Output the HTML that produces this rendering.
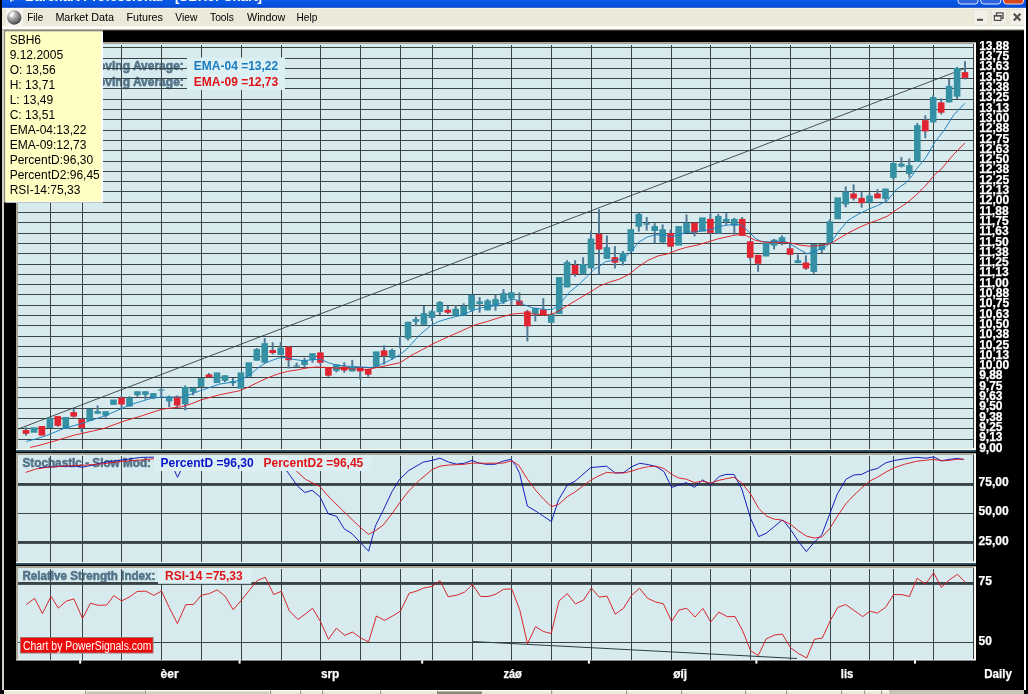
<!DOCTYPE html>
<html lang="cs"><head><meta charset="utf-8"><title>Barchart Professional - [SBH6: Chart]</title>
<style>
html,body{margin:0;padding:0;background:#000;overflow:hidden}
body{width:1028px;height:694px;position:relative;font-family:"Liberation Sans", Arial, sans-serif}
svg{position:absolute;left:0;top:0;display:block}
</style></head><body>
<svg width="1028" height="694" viewBox="0 0 1028 694" font-family='"Liberation Sans", Arial, sans-serif' font-size="12">
<defs><linearGradient id="tb" x1="0" y1="0" x2="0" y2="1"><stop offset="0" stop-color="#0a5ae6"/><stop offset="0.7" stop-color="#0550e0"/><stop offset="1" stop-color="#0340c4"/></linearGradient><radialGradient id="gl" cx="0.35" cy="0.3" r="0.8"><stop offset="0" stop-color="#f6f6f6"/><stop offset="0.4" stop-color="#a4a4a4"/><stop offset="0.8" stop-color="#5a5a5a"/><stop offset="1" stop-color="#1c1c1c"/></radialGradient><clipPath id="cm"><rect x="18" y="44" width="956" height="405"/></clipPath><clipPath id="cs"><rect x="18" y="455" width="956" height="107"/></clipPath><clipPath id="cr"><rect x="18" y="568" width="956" height="92"/></clipPath></defs>
<rect width="1028" height="694" fill="#000"/>
<rect x="2" y="0" width="1024" height="8" fill="url(#tb)"/>
<text x="25" y="0.6" font-size="13" font-weight="bold" fill="#fff" textLength="237" lengthAdjust="spacingAndGlyphs">Barchart Professional - [SBH6: Chart]</text>
<rect x="958" y="-12" width="20" height="16" rx="3" fill="#2d62e0" stroke="#dfe8fb" stroke-width="1"/>
<rect x="980.8" y="-12" width="20" height="16" rx="3" fill="#2d62e0" stroke="#dfe8fb" stroke-width="1"/>
<rect x="1003.5" y="-12" width="20" height="16" rx="3" fill="#d9471f" stroke="#f3d9d0" stroke-width="1"/>
<rect x="2" y="8" width="1024" height="20" fill="#ece9d8"/>
<rect x="2" y="7.8" width="1024" height="1" fill="#f8f7f0"/>
<rect x="10" y="0" width="2" height="1.6" fill="#cfe0ff"/><rect x="12.5" y="0" width="1.5" height="1" fill="#9cbcf8"/>
<rect x="2" y="26.3" width="1024" height="2.7" fill="#fff"/>
<rect x="2" y="29" width="1022" height="1.3" fill="#b4b0a0"/>
<rect x="6" y="9" width="17" height="17" fill="#f5f4ee"/>
<circle cx="14.2" cy="17.5" r="7.2" fill="url(#gl)"/>
<path d="M10.5 13.5 q2-2.5 3.5-1.5 q-0.5 3-2 5 q-1.5 0.5-2.5-1z" fill="#fff" opacity="0.75"/>
<text x="27.3" y="20.8" font-size="11.5" fill="#000" textLength="16.0" lengthAdjust="spacingAndGlyphs">File</text>
<text x="55.4" y="20.8" font-size="11.5" fill="#000" textLength="58.7" lengthAdjust="spacingAndGlyphs">Market Data</text>
<text x="126.5" y="20.8" font-size="11.5" fill="#000" textLength="36.4" lengthAdjust="spacingAndGlyphs">Futures</text>
<text x="175.3" y="20.8" font-size="11.5" fill="#000" textLength="22.0" lengthAdjust="spacingAndGlyphs">View</text>
<text x="210" y="20.8" font-size="11.5" fill="#000" textLength="24.0" lengthAdjust="spacingAndGlyphs">Tools</text>
<text x="247" y="20.8" font-size="11.5" fill="#000" textLength="38.3" lengthAdjust="spacingAndGlyphs">Window</text>
<text x="296.5" y="20.8" font-size="11.5" fill="#000" textLength="20.8" lengthAdjust="spacingAndGlyphs">Help</text>
<rect x="973" y="9.5" width="15.5" height="16" fill="#f1efe6" stroke="#e2dfd0" stroke-width="0.8"/>
<rect x="991.3" y="9.5" width="15.5" height="16" fill="#f1efe6" stroke="#e2dfd0" stroke-width="0.8"/>
<rect x="1009.5" y="9.5" width="15.5" height="16" fill="#f1efe6" stroke="#e2dfd0" stroke-width="0.8"/>
<rect x="977" y="18.8" width="6" height="2" fill="#4c4c4c"/>
<path d="M996.5 15 v-2.2 h6.5 v5.5 h-1.8" fill="none" stroke="#4c4c4c" stroke-width="1.3"/>
<rect x="994.4" y="15.6" width="6.6" height="4.8" fill="none" stroke="#4c4c4c" stroke-width="1.2"/>
<rect x="993.8" y="15" width="7.8" height="1.6" fill="#4c4c4c"/>
<path d="M1013.8 13.8 L1020.4 20.4 M1020.4 13.8 L1013.8 20.4" stroke="#4c4c4c" stroke-width="2.1"/>
<rect x="2" y="30" width="2" height="660" fill="#d4d0c8"/>
<rect x="1024" y="8" width="2" height="682" fill="#fff"/>
<rect x="16" y="42" width="960" height="407" fill="#a9a598"/>
<rect x="18" y="44" width="956" height="405" fill="#d7ebee"/>
<rect x="974" y="43" width="2" height="406" fill="#fbfbf6"/>
<rect x="973" y="44" width="1" height="404" fill="#3a4446"/>
<rect x="16" y="449" width="960" height="1.4" fill="#fff"/>
<rect x="16" y="450.4" width="960" height="1.6" fill="#1f4a5c"/>
<g font-weight="bold" fill="#54748a" stroke="#54748a" stroke-width="0.6"><text x="88" y="70.4">Moving Average:</text><text x="88" y="85.6">Moving Average:</text></g>
<path d="M18 47.5H974 M18 58.5H974 M18 68.5H974 M18 78.5H974 M18 88.5H974 M18 99.5H974 M18 109.5H974 M18 119.5H974 M18 130.5H974 M18 140.5H974 M18 150.5H974 M18 161.5H974 M18 171.5H974 M18 181.5H974 M18 191.5H974 M18 202.5H974 M18 212.5H974 M18 222.5H974 M18 233.5H974 M18 243.5H974 M18 253.5H974 M18 264.5H974 M18 274.5H974 M18 284.5H974 M18 294.5H974 M18 305.5H974 M18 315.5H974 M18 325.5H974 M18 336.5H974 M18 346.5H974 M18 356.5H974 M18 367.5H974 M18 377.5H974 M18 387.5H974 M18 397.5H974 M18 408.5H974 M18 418.5H974 M18 428.5H974 M18 439.5H974 M50.5 45V449 M82.5 45V449 M121.5 45V449 M161.5 45V449 M201.5 45V449 M241.5 45V449 M281.5 45V449 M320.5 45V449 M360.5 45V449 M400.5 45V449 M432.5 45V449 M472.5 45V449 M511.5 45V449 M551.5 45V449 M591.5 45V449 M631.5 45V449 M671.5 45V449 M710.5 45V449 M750.5 45V449 M790.5 45V449 M830.5 45V449 M869.5 45V449 M893.5 45V449 M933.5 45V449" stroke="#3a4446" stroke-width="1" fill="none" shape-rendering="crispEdges"/>
<line x1="18" y1="429.1" x2="964.6" y2="68.5" stroke="#2c3436" stroke-width="0.85"/>
<g clip-path="url(#cm)">
<rect x="25.0" y="427.3" width="2" height="8.3" fill="#527a96"/>
<rect x="22.7" y="430.0" width="6.6" height="3.8" fill="#e02432"/>
<rect x="30.7" y="427.3" width="6.6" height="5.4" fill="#3590a4"/>
<rect x="38.6" y="426.0" width="6.6" height="9.6" fill="#e02432"/>
<rect x="46.6" y="417.9" width="6.6" height="10.2" fill="#3590a4"/>
<rect x="56.8" y="416.1" width="2" height="10.6" fill="#527a96"/>
<rect x="54.5" y="416.1" width="6.6" height="9.7" fill="#e02432"/>
<rect x="62.5" y="417.0" width="6.6" height="11.8" fill="#3590a4"/>
<rect x="72.7" y="408.8" width="2" height="8.7" fill="#527a96"/>
<rect x="70.4" y="412.1" width="6.6" height="4.5" fill="#e02432"/>
<rect x="80.7" y="418.5" width="2" height="13.6" fill="#527a96"/>
<rect x="78.4" y="419.1" width="6.6" height="8.8" fill="#e02432"/>
<rect x="86.4" y="408.8" width="6.6" height="12.2" fill="#3590a4"/>
<rect x="96.6" y="405.5" width="2" height="8.5" fill="#527a96"/>
<rect x="94.3" y="411.1" width="6.6" height="2.6" fill="#3590a4"/>
<rect x="104.6" y="411.3" width="2" height="6.2" fill="#527a96"/>
<rect x="102.3" y="411.3" width="6.6" height="4.3" fill="#3590a4"/>
<rect x="110.2" y="399.5" width="6.6" height="5.4" fill="#3590a4"/>
<rect x="120.5" y="396.1" width="2" height="11.7" fill="#527a96"/>
<rect x="118.2" y="397.5" width="6.6" height="7.0" fill="#e02432"/>
<rect x="128.5" y="396.1" width="2" height="10.4" fill="#527a96"/>
<rect x="126.2" y="397.5" width="6.6" height="9.0" fill="#3590a4"/>
<rect x="136.4" y="391.3" width="2" height="5.4" fill="#527a96"/>
<rect x="134.1" y="391.3" width="6.6" height="3.9" fill="#3590a4"/>
<rect x="144.4" y="391.3" width="2" height="8.2" fill="#527a96"/>
<rect x="142.1" y="391.3" width="6.6" height="3.5" fill="#3590a4"/>
<rect x="152.3" y="393.2" width="2" height="5.9" fill="#527a96"/>
<rect x="150.0" y="393.2" width="6.6" height="4.5" fill="#3590a4"/>
<rect x="160.3" y="388.4" width="2" height="8.7" fill="#527a96"/>
<rect x="158.0" y="389.5" width="6.6" height="1.1" fill="#3590a4"/>
<rect x="168.2" y="395.6" width="2" height="11.6" fill="#527a96"/>
<rect x="165.9" y="396.7" width="6.6" height="4.7" fill="#3590a4"/>
<rect x="176.2" y="395.6" width="2" height="12.2" fill="#527a96"/>
<rect x="173.9" y="396.5" width="6.6" height="9.0" fill="#e02432"/>
<rect x="184.2" y="385.4" width="2" height="25.0" fill="#527a96"/>
<rect x="181.9" y="387.0" width="6.6" height="17.3" fill="#3590a4"/>
<rect x="192.1" y="387.8" width="2" height="7.4" fill="#527a96"/>
<rect x="189.8" y="387.8" width="6.6" height="4.1" fill="#3590a4"/>
<rect x="197.8" y="378.1" width="6.6" height="8.8" fill="#3590a4"/>
<rect x="208.0" y="373.0" width="2" height="4.2" fill="#527a96"/>
<rect x="205.7" y="374.4" width="6.6" height="2.8" fill="#e02432"/>
<rect x="213.7" y="372.4" width="6.6" height="10.7" fill="#3590a4"/>
<rect x="224.0" y="375.3" width="2" height="6.8" fill="#527a96"/>
<rect x="221.7" y="375.3" width="6.6" height="5.5" fill="#3590a4"/>
<rect x="231.9" y="377.9" width="2" height="8.1" fill="#527a96"/>
<rect x="229.6" y="381.2" width="6.6" height="1.9" fill="#3590a4"/>
<rect x="237.6" y="372.4" width="6.6" height="16.2" fill="#3590a4"/>
<rect x="245.5" y="362.3" width="6.6" height="14.4" fill="#3590a4"/>
<rect x="255.8" y="348.1" width="2" height="12.6" fill="#527a96"/>
<rect x="253.5" y="349.1" width="6.6" height="11.6" fill="#3590a4"/>
<rect x="263.7" y="338.0" width="2" height="25.3" fill="#527a96"/>
<rect x="261.4" y="343.2" width="6.6" height="19.5" fill="#3590a4"/>
<rect x="271.7" y="342.3" width="2" height="12.2" fill="#527a96"/>
<rect x="269.4" y="350.0" width="6.6" height="3.0" fill="#e02432"/>
<rect x="279.7" y="342.3" width="2" height="12.6" fill="#527a96"/>
<rect x="277.4" y="347.7" width="6.6" height="7.2" fill="#3590a4"/>
<rect x="287.6" y="346.1" width="2" height="22.4" fill="#527a96"/>
<rect x="285.3" y="346.7" width="6.6" height="13.5" fill="#e02432"/>
<rect x="295.6" y="362.7" width="2" height="3.9" fill="#527a96"/>
<rect x="293.3" y="365.4" width="6.6" height="1.2" fill="#3590a4"/>
<rect x="303.5" y="357.8" width="2" height="9.7" fill="#527a96"/>
<rect x="301.2" y="360.2" width="6.6" height="4.8" fill="#3590a4"/>
<rect x="311.5" y="353.3" width="2" height="9.4" fill="#527a96"/>
<rect x="309.2" y="353.3" width="6.6" height="6.5" fill="#3590a4"/>
<rect x="319.4" y="352.4" width="2" height="12.2" fill="#527a96"/>
<rect x="317.1" y="352.4" width="6.6" height="10.3" fill="#e02432"/>
<rect x="327.4" y="367.5" width="2" height="9.2" fill="#527a96"/>
<rect x="325.1" y="367.5" width="6.6" height="8.2" fill="#e02432"/>
<rect x="335.4" y="364.6" width="2" height="7.8" fill="#527a96"/>
<rect x="333.1" y="364.6" width="6.6" height="6.4" fill="#3590a4"/>
<rect x="343.3" y="362.3" width="2" height="10.5" fill="#527a96"/>
<rect x="341.0" y="366.6" width="6.6" height="3.9" fill="#e02432"/>
<rect x="351.3" y="359.8" width="2" height="11.6" fill="#527a96"/>
<rect x="349.0" y="367.0" width="6.6" height="4.4" fill="#3590a4"/>
<rect x="359.2" y="366.6" width="2" height="13.0" fill="#527a96"/>
<rect x="356.9" y="367.5" width="6.6" height="3.9" fill="#e02432"/>
<rect x="367.2" y="368.9" width="2" height="7.8" fill="#527a96"/>
<rect x="364.9" y="368.9" width="6.6" height="5.8" fill="#e02432"/>
<rect x="372.9" y="351.4" width="6.6" height="15.2" fill="#3590a4"/>
<rect x="383.1" y="345.2" width="2" height="19.4" fill="#527a96"/>
<rect x="380.8" y="350.4" width="6.6" height="5.5" fill="#e02432"/>
<rect x="391.1" y="348.7" width="2" height="11.1" fill="#527a96"/>
<rect x="388.8" y="350.0" width="6.6" height="7.8" fill="#3590a4"/>
<rect x="399.0" y="336.3" width="2" height="12.1" fill="#527a96"/>
<rect x="407.0" y="321.8" width="2" height="18.7" fill="#527a96"/>
<rect x="404.7" y="321.8" width="6.6" height="16.8" fill="#3590a4"/>
<rect x="414.9" y="316.6" width="2" height="9.7" fill="#527a96"/>
<rect x="412.6" y="319.1" width="6.6" height="2.7" fill="#3590a4"/>
<rect x="422.9" y="305.9" width="2" height="18.8" fill="#527a96"/>
<rect x="420.6" y="313.1" width="6.6" height="11.6" fill="#3590a4"/>
<rect x="430.9" y="309.8" width="2" height="11.2" fill="#527a96"/>
<rect x="428.6" y="311.3" width="6.6" height="6.6" fill="#3590a4"/>
<rect x="438.8" y="301.0" width="2" height="14.0" fill="#527a96"/>
<rect x="436.5" y="302.0" width="6.6" height="10.1" fill="#3590a4"/>
<rect x="446.8" y="305.9" width="2" height="8.1" fill="#527a96"/>
<rect x="444.5" y="309.8" width="6.6" height="2.9" fill="#e02432"/>
<rect x="454.7" y="305.5" width="2" height="10.1" fill="#527a96"/>
<rect x="452.4" y="308.8" width="6.6" height="6.8" fill="#3590a4"/>
<rect x="462.7" y="303.3" width="2" height="12.3" fill="#527a96"/>
<rect x="460.4" y="305.9" width="6.6" height="9.7" fill="#3590a4"/>
<rect x="470.6" y="294.8" width="2" height="16.9" fill="#527a96"/>
<rect x="468.3" y="294.8" width="6.6" height="15.0" fill="#3590a4"/>
<rect x="478.6" y="297.1" width="2" height="15.6" fill="#527a96"/>
<rect x="476.3" y="301.4" width="6.6" height="2.5" fill="#3590a4"/>
<rect x="486.6" y="299.1" width="2" height="11.3" fill="#527a96"/>
<rect x="484.3" y="300.4" width="6.6" height="10.0" fill="#3590a4"/>
<rect x="494.5" y="294.8" width="2" height="15.9" fill="#527a96"/>
<rect x="492.2" y="299.1" width="6.6" height="7.2" fill="#3590a4"/>
<rect x="502.5" y="289.0" width="2" height="14.9" fill="#527a96"/>
<rect x="500.2" y="293.2" width="6.6" height="8.8" fill="#3590a4"/>
<rect x="510.4" y="292.3" width="2" height="12.6" fill="#527a96"/>
<rect x="508.1" y="292.3" width="6.6" height="6.2" fill="#3590a4"/>
<rect x="518.4" y="292.3" width="2" height="13.2" fill="#527a96"/>
<rect x="516.1" y="300.6" width="6.6" height="4.3" fill="#e02432"/>
<rect x="526.4" y="309.8" width="2" height="31.7" fill="#527a96"/>
<rect x="524.1" y="311.3" width="6.6" height="15.0" fill="#e02432"/>
<rect x="534.3" y="308.2" width="2" height="13.2" fill="#527a96"/>
<rect x="532.0" y="308.2" width="6.6" height="5.8" fill="#3590a4"/>
<rect x="542.3" y="298.1" width="2" height="17.5" fill="#527a96"/>
<rect x="540.0" y="309.4" width="6.6" height="5.8" fill="#e02432"/>
<rect x="547.9" y="314.0" width="6.6" height="8.8" fill="#3590a4"/>
<rect x="555.9" y="277.1" width="6.6" height="36.9" fill="#3590a4"/>
<rect x="566.1" y="260.2" width="2" height="27.2" fill="#527a96"/>
<rect x="563.8" y="262.1" width="6.6" height="25.3" fill="#3590a4"/>
<rect x="574.1" y="260.2" width="2" height="16.5" fill="#527a96"/>
<rect x="571.8" y="265.0" width="6.6" height="9.2" fill="#e02432"/>
<rect x="582.1" y="257.2" width="2" height="17.2" fill="#527a96"/>
<rect x="579.8" y="264.0" width="6.6" height="9.8" fill="#3590a4"/>
<rect x="590.0" y="231.0" width="2" height="37.4" fill="#527a96"/>
<rect x="587.7" y="238.6" width="6.6" height="29.8" fill="#3590a4"/>
<rect x="598.0" y="209.2" width="2" height="65.2" fill="#527a96"/>
<rect x="595.7" y="234.0" width="6.6" height="15.5" fill="#e02432"/>
<rect x="605.9" y="235.4" width="2" height="23.4" fill="#527a96"/>
<rect x="603.6" y="247.1" width="6.6" height="11.7" fill="#3590a4"/>
<rect x="613.9" y="246.1" width="2" height="22.4" fill="#527a96"/>
<rect x="611.6" y="257.2" width="6.6" height="5.5" fill="#e02432"/>
<rect x="621.9" y="251.0" width="2" height="14.6" fill="#527a96"/>
<rect x="619.6" y="253.0" width="6.6" height="8.7" fill="#3590a4"/>
<rect x="627.5" y="229.2" width="6.6" height="22.2" fill="#3590a4"/>
<rect x="637.8" y="212.7" width="2" height="18.9" fill="#527a96"/>
<rect x="635.5" y="214.0" width="6.6" height="12.7" fill="#3590a4"/>
<rect x="645.7" y="217.0" width="2" height="13.6" fill="#527a96"/>
<rect x="643.4" y="223.2" width="6.6" height="1.5" fill="#3590a4"/>
<rect x="653.7" y="223.2" width="2" height="20.0" fill="#527a96"/>
<rect x="651.4" y="226.1" width="6.6" height="4.9" fill="#3590a4"/>
<rect x="661.6" y="224.4" width="2" height="18.8" fill="#527a96"/>
<rect x="659.3" y="229.2" width="6.6" height="13.1" fill="#3590a4"/>
<rect x="669.6" y="229.6" width="2" height="17.1" fill="#527a96"/>
<rect x="667.3" y="233.1" width="6.6" height="13.6" fill="#e02432"/>
<rect x="675.3" y="226.1" width="6.6" height="19.5" fill="#3590a4"/>
<rect x="685.5" y="214.4" width="2" height="18.5" fill="#527a96"/>
<rect x="683.2" y="222.8" width="6.6" height="10.1" fill="#3590a4"/>
<rect x="693.5" y="222.8" width="2" height="13.6" fill="#527a96"/>
<rect x="691.2" y="222.8" width="6.6" height="9.7" fill="#e02432"/>
<rect x="699.1" y="217.4" width="6.6" height="14.2" fill="#3590a4"/>
<rect x="709.4" y="214.0" width="2" height="20.5" fill="#527a96"/>
<rect x="707.1" y="218.9" width="6.6" height="14.0" fill="#e02432"/>
<rect x="717.3" y="214.0" width="2" height="19.5" fill="#527a96"/>
<rect x="715.0" y="216.0" width="6.6" height="17.5" fill="#3590a4"/>
<rect x="725.3" y="213.1" width="2" height="12.0" fill="#527a96"/>
<rect x="723.0" y="218.9" width="6.6" height="2.9" fill="#3590a4"/>
<rect x="733.3" y="217.9" width="2" height="16.6" fill="#527a96"/>
<rect x="731.0" y="218.9" width="6.6" height="6.8" fill="#3590a4"/>
<rect x="741.2" y="217.0" width="2" height="18.4" fill="#527a96"/>
<rect x="738.9" y="218.9" width="6.6" height="16.5" fill="#e02432"/>
<rect x="749.2" y="241.3" width="2" height="19.4" fill="#527a96"/>
<rect x="746.9" y="241.3" width="6.6" height="16.5" fill="#e02432"/>
<rect x="757.1" y="254.9" width="2" height="16.9" fill="#527a96"/>
<rect x="754.8" y="254.9" width="6.6" height="8.8" fill="#e02432"/>
<rect x="762.8" y="242.6" width="6.6" height="13.9" fill="#3590a4"/>
<rect x="773.1" y="238.9" width="2" height="10.6" fill="#527a96"/>
<rect x="770.8" y="239.7" width="6.6" height="5.9" fill="#3590a4"/>
<rect x="781.0" y="235.4" width="2" height="9.8" fill="#527a96"/>
<rect x="778.7" y="237.3" width="6.6" height="4.5" fill="#3590a4"/>
<rect x="789.0" y="243.7" width="2" height="11.1" fill="#527a96"/>
<rect x="786.7" y="248.3" width="6.6" height="6.5" fill="#e02432"/>
<rect x="796.9" y="254.4" width="2" height="8.7" fill="#527a96"/>
<rect x="794.6" y="260.2" width="6.6" height="2.9" fill="#3590a4"/>
<rect x="804.9" y="255.3" width="2" height="14.6" fill="#527a96"/>
<rect x="802.6" y="262.5" width="6.6" height="6.1" fill="#e02432"/>
<rect x="812.8" y="244.0" width="2" height="29.8" fill="#527a96"/>
<rect x="810.5" y="244.0" width="6.6" height="27.9" fill="#3590a4"/>
<rect x="820.8" y="244.0" width="2" height="9.0" fill="#527a96"/>
<rect x="818.5" y="244.0" width="6.6" height="5.9" fill="#3590a4"/>
<rect x="828.8" y="219.3" width="2" height="24.7" fill="#527a96"/>
<rect x="826.5" y="221.3" width="6.6" height="22.7" fill="#3590a4"/>
<rect x="834.4" y="197.4" width="6.6" height="21.9" fill="#3590a4"/>
<rect x="844.7" y="186.3" width="2" height="21.0" fill="#527a96"/>
<rect x="842.4" y="191.5" width="6.6" height="12.9" fill="#3590a4"/>
<rect x="852.6" y="184.3" width="2" height="16.2" fill="#527a96"/>
<rect x="850.3" y="193.5" width="6.6" height="5.0" fill="#e02432"/>
<rect x="860.6" y="192.1" width="2" height="15.6" fill="#527a96"/>
<rect x="858.3" y="197.9" width="6.6" height="5.3" fill="#e02432"/>
<rect x="868.5" y="193.1" width="2" height="10.7" fill="#527a96"/>
<rect x="866.2" y="195.6" width="6.6" height="6.8" fill="#3590a4"/>
<rect x="876.5" y="189.2" width="2" height="9.1" fill="#527a96"/>
<rect x="874.2" y="193.5" width="6.6" height="4.8" fill="#e02432"/>
<rect x="884.5" y="188.6" width="2" height="12.3" fill="#527a96"/>
<rect x="882.2" y="188.6" width="6.6" height="10.3" fill="#3590a4"/>
<rect x="892.4" y="161.0" width="2" height="18.5" fill="#527a96"/>
<rect x="890.1" y="163.0" width="6.6" height="14.9" fill="#3590a4"/>
<rect x="900.4" y="157.1" width="2" height="10.3" fill="#527a96"/>
<rect x="898.1" y="163.6" width="6.6" height="3.0" fill="#3590a4"/>
<rect x="908.3" y="158.4" width="2" height="19.1" fill="#527a96"/>
<rect x="906.0" y="165.2" width="6.6" height="8.8" fill="#3590a4"/>
<rect x="916.3" y="123.0" width="2" height="38.7" fill="#527a96"/>
<rect x="914.0" y="125.2" width="6.6" height="36.5" fill="#3590a4"/>
<rect x="924.3" y="115.3" width="2" height="23.0" fill="#527a96"/>
<rect x="922.0" y="120.2" width="6.6" height="11.2" fill="#e02432"/>
<rect x="932.2" y="95.3" width="2" height="27.1" fill="#527a96"/>
<rect x="929.9" y="97.1" width="6.6" height="25.3" fill="#3590a4"/>
<rect x="940.2" y="98.4" width="2" height="16.1" fill="#527a96"/>
<rect x="937.9" y="102.4" width="6.6" height="10.3" fill="#e02432"/>
<rect x="948.1" y="79.0" width="2" height="23.4" fill="#527a96"/>
<rect x="945.8" y="85.9" width="6.6" height="16.5" fill="#3590a4"/>
<rect x="956.1" y="66.8" width="2" height="32.2" fill="#527a96"/>
<rect x="953.8" y="68.0" width="6.6" height="28.7" fill="#3590a4"/>
<rect x="964.0" y="61.2" width="2" height="18.3" fill="#527a96"/>
<rect x="961.7" y="72.1" width="6.6" height="5.8" fill="#e02432"/>
<polyline points="26.2,441.5 35.5,439.0 45.2,436.0 64.6,428.2 82.1,423.4 93.8,419.5 105.5,415.6 121.0,408.8 132.7,403.9 152.2,398.1 161.9,397.1 181.4,397.1 191.1,394.2 200.8,390.5 219.5,384.1 233.0,382.1 241.8,379.2 250.6,374.4 258.4,367.5 266.1,362.7 277.8,358.2 285.6,357.4 293.4,359.4 303.1,360.7 311.9,359.8 320.6,359.4 328.4,362.7 336.2,365.0 347.9,366.2 361.5,367.0 371.2,367.5 376.0,366.6 384.8,362.7 394.6,357.8 400.0,354.5 406.8,349.1 419.5,335.1 431.1,325.3 438.9,321.4 450.6,317.9 462.3,315.0 472.0,310.7 481.7,307.8 493.4,305.9 503.1,302.4 510.9,299.1 516.7,300.0 524.5,304.9 532.3,307.8 540.1,308.8 547.9,309.8 553.7,308.8 561.5,302.0 569.3,292.3 579.0,284.5 586.8,276.7 594.6,268.9 597.8,267.5 605.6,261.7 613.3,260.2 623.1,258.8 630.9,252.0 638.6,242.3 646.4,237.4 654.2,234.9 663.9,234.9 671.7,236.8 679.5,234.5 687.3,232.1 695.1,232.1 702.8,230.6 710.6,229.6 718.4,226.7 726.2,225.3 734.0,224.4 741.8,225.1 749.5,232.5 755.4,238.4 761.2,241.3 769.0,241.9 776.8,241.3 784.6,241.3 789.7,243.7 799.5,249.5 807.2,253.8 815.0,251.1 824.7,247.5 830.6,242.7 838.4,232.0 848.1,220.3 857.8,214.5 867.5,209.6 877.3,205.7 887.0,200.9 896.7,189.2 906.5,182.4 912.3,175.6 916.2,169.2 925.6,158.0 934.9,142.1 944.3,129.9 953.7,114.9 964.9,103.3" fill="none" stroke="#1b7fc0" stroke-width="0.95" stroke-linejoin="round"/>
<polyline points="30.0,447.5 41.3,444.8 54.9,440.9 74.4,435.1 93.8,430.8 103.5,428.6 123.0,421.4 142.5,415.6 161.9,409.2 181.4,406.8 191.1,403.9 200.8,400.0 219.5,394.8 238.9,390.9 248.6,387.0 258.4,382.1 268.1,377.7 277.8,374.0 287.5,371.4 297.3,369.9 307.0,367.9 316.7,367.0 326.5,367.5 336.2,368.1 355.6,369.1 367.3,369.5 375.1,367.9 384.8,366.0 400.0,362.7 412.0,355.0 423.3,349.1 433.1,343.8 448.6,336.6 462.3,330.6 473.9,325.3 487.5,321.4 501.2,317.0 512.8,314.0 524.5,313.1 536.2,314.2 547.9,315.0 555.6,312.7 565.4,306.8 575.1,301.0 584.8,295.2 594.6,289.3 599.7,286.0 609.5,282.1 619.2,279.2 628.9,274.4 638.6,266.6 648.4,260.2 658.1,255.9 667.8,253.9 677.5,250.0 687.3,247.1 697.0,245.2 706.7,242.3 716.5,239.3 726.2,237.0 735.9,234.9 745.6,235.4 755.4,240.3 765.1,242.3 774.8,242.3 789.7,242.7 799.5,245.0 809.2,246.2 818.9,245.6 830.6,243.7 838.4,238.8 848.1,233.0 857.8,228.1 867.5,223.8 877.3,220.3 887.0,216.4 896.7,209.6 906.5,203.2 916.2,195.0 925.9,185.3 935.6,173.6 940.5,170.0 953.7,154.3 964.9,143.0" fill="none" stroke="#e01c24" stroke-width="0.95" stroke-linejoin="round"/>
</g>
<rect x="187" y="57.5" width="98" height="32.5" fill="#dceff2"/>
<text x="193.8" y="70.4" font-weight="bold" fill="#1a7cc0">EMA-04 =13,22</text>
<text x="193.8" y="85.6" font-weight="bold" fill="#e01418">EMA-09 =12,73</text>
<rect x="16" y="453" width="960" height="109" fill="#a9a598"/>
<rect x="18" y="455" width="956" height="107" fill="#d7ebee"/>
<rect x="974" y="454" width="2" height="108" fill="#fbfbf6"/>
<rect x="973" y="455" width="1" height="106" fill="#3a4446"/>
<rect x="16" y="562" width="960" height="1.4" fill="#fff"/>
<rect x="16" y="563.4" width="960" height="1.6" fill="#1f4a5c"/>
<text x="22.5" y="467" font-weight="bold" fill="#54748a" stroke="#54748a" stroke-width="0.6" textLength="128.5" lengthAdjust="spacingAndGlyphs">Stochastic - Slow Mod:</text>
<path d="M50.5 456V562 M82.5 456V562 M121.5 456V562 M161.5 456V562 M201.5 456V562 M241.5 456V562 M281.5 456V562 M320.5 456V562 M360.5 456V562 M400.5 456V562 M432.5 456V562 M472.5 456V562 M511.5 456V562 M551.5 456V562 M591.5 456V562 M631.5 456V562 M671.5 456V562 M710.5 456V562 M750.5 456V562 M790.5 456V562 M830.5 456V562 M869.5 456V562 M893.5 456V562 M933.5 456V562 M18 513.5H974" stroke="#3a4446" stroke-width="1" fill="none" shape-rendering="crispEdges"/>
<rect x="18" y="483" width="956" height="2.9" fill="#3a4446"/>
<rect x="18" y="541" width="956" height="2.9" fill="#3a4446"/>
<g clip-path="url(#cs)">
<polyline points="39.3,467.6 60.0,466.4 76.0,466.2 82.0,467.2 90.0,465.6 103.5,462.5 123.0,459.8 140.5,457.4 154.0,457.2 169.5,459.5 177.5,477.3 185.5,461.0 200.0,457.0 250.0,458.0 275.0,460.0 286.8,470.9 297.5,486.0 304.9,492.5 312.1,490.3 319.9,496.7 328.3,513.9 336.5,516.2 344.2,528.8 352.0,533.7 360.8,543.0 368.6,551.2 375.4,525.9 383.2,510.4 391.9,491.9 399.7,479.2 408.8,470.5 423.3,462.1 432.1,460.4 439.9,458.2 448.6,462.1 456.4,464.1 464.2,463.3 472.0,460.4 477.8,462.7 485.6,464.3 495.3,464.3 503.1,461.1 510.9,459.4 515.8,465.6 519.6,473.4 527.4,506.1 536.2,511.3 551.4,521.6 558.6,499.7 567.3,485.1 575.1,481.2 582.9,474.4 590.7,467.6 601.7,466.6 606.5,466.2 615.3,473.0 624.0,472.4 631.8,466.6 639.6,463.3 648.4,464.6 656.1,466.6 663.9,471.5 671.7,487.4 678.5,485.1 686.3,482.7 694.5,487.4 702.5,479.8 710.6,485.1 719.4,476.3 726.2,474.4 734.0,474.4 741.8,489.0 750.5,518.1 758.7,536.6 766.1,533.3 773.9,526.9 782.0,520.1 783.9,521.1 790.7,529.8 798.5,541.5 806.3,551.6 814.0,542.5 821.8,534.7 829.6,514.3 837.4,493.8 846.1,479.2 853.9,475.0 861.7,474.4 869.5,470.5 877.3,468.5 886.0,462.7 894.8,460.4 904.5,458.8 916.2,457.3 925.9,458.2 933.7,456.9 941.5,460.8 949.3,459.4 957.0,458.4 963.9,459.4" fill="none" stroke="#0a14b8" stroke-width="0.95" stroke-linejoin="round"/>
<polyline points="25.7,472.4 35.5,469.1 45.2,467.6 64.6,466.0 84.1,465.2 103.5,463.7 123.0,461.3 142.5,459.8 154.0,458.8 200.0,458.0 250.0,459.0 280.0,462.0 296.2,470.9 305.3,479.2 319.9,486.6 330.6,498.7 346.2,513.9 360.8,527.9 368.6,534.3 375.4,530.8 383.2,525.0 391.9,513.9 399.7,502.6 408.8,490.9 419.5,480.2 432.1,469.5 439.9,466.2 448.6,465.0 464.2,464.3 472.0,463.1 485.6,463.3 503.1,463.1 511.9,460.8 518.7,465.2 527.4,479.2 536.2,490.9 544.0,499.7 551.4,506.5 558.6,504.5 567.3,496.7 575.1,491.9 582.9,486.0 590.7,480.2 597.8,476.3 606.5,472.4 615.3,473.0 624.0,473.0 631.8,471.1 639.6,468.5 648.4,466.6 656.1,466.2 663.9,468.5 671.7,474.4 678.5,477.9 686.3,479.2 694.5,482.5 702.5,481.2 710.6,483.1 719.4,480.2 726.2,478.7 734.0,477.3 741.8,483.1 750.5,493.8 758.7,508.4 766.1,515.8 773.9,519.1 782.0,520.1 790.7,524.4 798.5,530.8 806.3,536.0 814.0,538.0 821.8,537.0 829.6,528.8 837.4,516.2 846.1,503.6 853.9,495.2 861.7,488.0 869.5,481.2 877.3,477.3 886.0,472.0 894.8,467.6 904.5,464.3 916.2,461.3 925.9,460.2 933.7,459.4 941.5,460.8 949.3,460.4 957.0,459.2 963.9,459.4" fill="none" stroke="#d81c24" stroke-width="0.95" stroke-linejoin="round"/>
</g>
<rect x="154" y="455" width="217.5" height="16" fill="#dceff2"/>
<text x="160.5" y="467" font-weight="bold" fill="#0a14c8">PercentD =96,30</text>
<text x="263.5" y="467" font-weight="bold" fill="#e01418">PercentD2 =96,45</text>
<rect x="16" y="566" width="960" height="94" fill="#a9a598"/>
<rect x="18" y="568" width="956" height="92" fill="#d7ebee"/>
<rect x="974" y="567" width="2" height="93" fill="#fbfbf6"/>
<rect x="973" y="568" width="1" height="91" fill="#3a4446"/>
<rect x="16" y="659.6" width="960" height="0.9" fill="#fff"/>
<text x="22.4" y="579.8" font-weight="bold" fill="#54748a" stroke="#54748a" stroke-width="0.6" textLength="133" lengthAdjust="spacingAndGlyphs">Relative Strength Index:</text>
<path d="M50.5 569V660 M82.5 569V660 M121.5 569V660 M161.5 569V660 M201.5 569V660 M241.5 569V660 M281.5 569V660 M320.5 569V660 M360.5 569V660 M400.5 569V660 M432.5 569V660 M472.5 569V660 M511.5 569V660 M551.5 569V660 M591.5 569V660 M631.5 569V660 M671.5 569V660 M710.5 569V660 M750.5 569V660 M790.5 569V660 M830.5 569V660 M869.5 569V660 M893.5 569V660 M933.5 569V660 M18 642.5H974" stroke="#3a4446" stroke-width="1" fill="none" shape-rendering="crispEdges"/>
<rect x="18" y="582" width="956" height="2.9" fill="#3a4446"/>
<g clip-path="url(#cr)">
<line x1="472.4" y1="641.5" x2="797" y2="658.5" stroke="#2c3c44" stroke-width="1"/>
<polyline points="26.3,604.7 34.6,598.3 42.4,613.5 51.0,596.4 58.4,608.1 66.1,601.2 73.9,598.9 82.5,618.4 90.5,603.2 98.2,605.3 106.6,605.1 113.8,595.6 121.6,600.9 129.4,597.0 137.2,591.5 145.9,591.1 153.7,595.4 161.5,591.1 169.3,607.7 177.4,623.6 185.8,604.7 193.6,604.4 201.3,595.2 209.5,593.6 217.2,589.9 225.0,596.1 233.2,609.7 241.6,600.0 249.3,590.3 257.1,580.6 265.3,577.3 273.7,594.6 281.4,591.3 289.2,610.7 298.0,619.5 305.8,613.6 312.6,608.2 320.4,621.4 328.5,639.3 336.3,628.2 344.7,635.4 352.5,632.1 360.8,638.0 368.6,641.8 376.4,616.0 384.6,620.4 392.6,616.0 400.4,611.1 409.2,593.2 416.0,591.3 423.8,588.0 432.1,586.4 439.9,580.6 448.1,596.7 456.8,595.2 464.6,592.2 472.4,584.5 480.6,596.5 488.0,596.5 495.8,594.2 503.5,589.3 511.7,588.9 519.7,609.7 527.5,643.8 535.6,626.7 543.4,631.5 551.2,633.5 559.0,601.0 567.2,593.6 575.4,603.9 583.6,600.0 591.4,588.0 599.2,597.1 607.0,596.1 615.3,614.2 623.5,608.2 631.7,595.2 639.6,588.3 647.4,598.1 655.6,602.0 663.4,603.9 671.6,621.4 678.9,610.1 686.7,608.2 694.9,617.1 702.9,608.4 710.7,622.0 718.8,612.1 727.2,616.6 735.0,616.6 742.8,631.1 750.5,650.6 758.3,655.5 766.1,638.9 774.6,635.0 782.4,634.1 790.5,647.7 798.5,653.5 806.7,658.0 814.5,639.3 822.3,638.0 830.4,620.4 837.8,607.4 845.6,604.5 854.4,610.7 862.7,616.6 869.9,611.1 877.3,613.2 885.5,607.4 893.7,594.6 902.0,594.6 909.4,596.5 917.2,578.2 925.4,584.1 933.7,572.8 941.3,587.4 949.7,579.6 957.5,574.3 964.9,582.0" fill="none" stroke="#d81c24" stroke-width="0.95" stroke-linejoin="round"/>
</g>
<rect x="158" y="568" width="93.3" height="15.8" fill="#dceff2"/>
<text x="165" y="579.8" font-weight="bold" fill="#e01418">RSI-14 =75,33</text>
<rect x="20.5" y="637.5" width="132.5" height="15.5" fill="#ee0a0a" stroke="#a07070" stroke-width="1"/>
<text x="23" y="650" fill="#fff" textLength="128.4" lengthAdjust="spacingAndGlyphs">Chart by PowerSignals.com</text>
<g font-weight="bold" fill="#fff" stroke="#fff" stroke-width="0.25">
<text x="979.2" y="49.8">13,88</text>
<text x="979.2" y="60.1">13,75</text>
<text x="979.2" y="70.4">13,63</text>
<text x="979.2" y="80.7">13,50</text>
<text x="979.2" y="91.0">13,38</text>
<text x="979.2" y="101.3">13,25</text>
<text x="979.2" y="111.6">13,13</text>
<text x="979.2" y="121.9">13,00</text>
<text x="979.2" y="132.2">12,88</text>
<text x="979.2" y="142.5">12,75</text>
<text x="979.2" y="152.8">12,63</text>
<text x="979.2" y="163.1">12,50</text>
<text x="979.2" y="173.4">12,38</text>
<text x="979.2" y="183.7">12,25</text>
<text x="979.2" y="194.0">12,13</text>
<text x="979.2" y="204.3">12,00</text>
<text x="979.2" y="214.6">11,88</text>
<text x="979.2" y="224.9">11,75</text>
<text x="979.2" y="235.2">11,63</text>
<text x="979.2" y="245.5">11,50</text>
<text x="979.2" y="255.8">11,38</text>
<text x="979.2" y="266.1">11,25</text>
<text x="979.2" y="276.4">11,13</text>
<text x="979.2" y="286.7">11,00</text>
<text x="979.2" y="297.0">10,88</text>
<text x="979.2" y="307.3">10,75</text>
<text x="979.2" y="317.6">10,63</text>
<text x="979.2" y="327.9">10,50</text>
<text x="979.2" y="338.2">10,38</text>
<text x="979.2" y="348.5">10,25</text>
<text x="979.2" y="358.8">10,13</text>
<text x="979.2" y="369.1">10,00</text>
<text x="979.2" y="379.4">9,88</text>
<text x="979.2" y="389.7">9,75</text>
<text x="979.2" y="400.0">9,63</text>
<text x="979.2" y="410.3">9,50</text>
<text x="979.2" y="420.6">9,38</text>
<text x="979.2" y="430.9">9,25</text>
<text x="979.2" y="441.2">9,13</text>
<text x="979.2" y="451.5">9,00</text>
<text x="978.6" y="485.6">75,00</text>
<text x="978.6" y="514.6">50,00</text>
<text x="978.6" y="544.6">25,00</text>
<text x="978.6" y="585.1">75</text>
<text x="978.6" y="644.7">50</text>
<text x="160.5" y="678" textLength="18.1" lengthAdjust="spacingAndGlyphs">èer</text>
<text x="320.9" y="678" textLength="18.5" lengthAdjust="spacingAndGlyphs">srp</text>
<text x="503.4" y="678" textLength="18.5" lengthAdjust="spacingAndGlyphs">záø</text>
<text x="673.2" y="678" textLength="14.0" lengthAdjust="spacingAndGlyphs">øíj</text>
<text x="840.8" y="678" textLength="12.5" lengthAdjust="spacingAndGlyphs">lis</text>
<text x="984.3" y="678" textLength="27.5" lengthAdjust="spacingAndGlyphs">Daily</text>
</g>
<rect x="79.2" y="660.3" width="2" height="3.3" fill="#fff"/>
<rect x="238.6" y="660.3" width="2" height="3.3" fill="#fff"/>
<rect x="421.2" y="660.3" width="2" height="3.3" fill="#fff"/>
<rect x="587.9" y="660.3" width="2" height="3.3" fill="#fff"/>
<rect x="755.4" y="660.3" width="2" height="3.3" fill="#fff"/>
<rect x="914.0" y="660.3" width="2" height="3.3" fill="#fff"/>
<rect x="4" y="30" width="99" height="172.5" fill="#8e8a7c"/>
<rect x="5.4" y="31.6" width="97.6" height="171" fill="#fff"/>
<rect x="5.4" y="31.6" width="95.6" height="169.6" fill="#ffffc4"/>
<g fill="#000">
<text x="9.7" y="43.6">SBH6</text>
<text x="9.7" y="58.6">9.12.2005</text>
<text x="9.7" y="73.6">O: 13,56</text>
<text x="9.7" y="88.6">H: 13,71</text>
<text x="9.7" y="103.6">L: 13,49</text>
<text x="9.7" y="118.6">C: 13,51</text>
<text x="9.7" y="133.6">EMA-04:13,22</text>
<text x="9.7" y="148.6">EMA-09:12,73</text>
<text x="9.7" y="163.6">PercentD:96,30</text>
<text x="9.7" y="178.6">PercentD2:96,45</text>
<text x="9.7" y="193.6">RSI-14:75,33</text>
</g>
<rect x="4" y="690" width="1020" height="4" fill="#ece9d8"/>
<rect x="4" y="690" width="885" height="1.2" fill="#fff"/>
<rect x="889" y="690" width="135" height="4" fill="#c9c5b6"/>
<rect x="85" y="690.5" width="1.2" height="3.5" fill="#9d9a8c"/>
<rect x="145" y="690.5" width="1.2" height="3.5" fill="#9d9a8c"/>
<rect x="270" y="690.5" width="1.2" height="3.5" fill="#9d9a8c"/>
<rect x="300" y="690.5" width="1.2" height="3.5" fill="#9d9a8c"/>
<rect x="322" y="690.5" width="1.2" height="3.5" fill="#9d9a8c"/>
<rect x="380" y="690.5" width="1.2" height="3.5" fill="#9d9a8c"/>
<rect x="437" y="690.5" width="1.2" height="3.5" fill="#9d9a8c"/>
<rect x="551" y="690.5" width="1.2" height="3.5" fill="#9d9a8c"/>
<rect x="626" y="690.5" width="1.2" height="3.5" fill="#9d9a8c"/>
<rect x="681" y="690.5" width="1.2" height="3.5" fill="#9d9a8c"/>
<rect x="745" y="690.5" width="1.2" height="3.5" fill="#9d9a8c"/>
<rect x="786" y="690.5" width="1.2" height="3.5" fill="#9d9a8c"/>
<rect x="841" y="690.5" width="1.2" height="3.5" fill="#9d9a8c"/>
<rect x="864" y="690.5" width="1.2" height="3.5" fill="#9d9a8c"/>
<rect x="881" y="690.5" width="1.2" height="3.5" fill="#9d9a8c"/>
<rect x="147" y="691.5" width="122" height="2.5" fill="#d2cec0"/>
<rect x="87" y="691.5" width="58" height="2.5" fill="#c9c5b6"/>
<rect x="437" y="691.5" width="45" height="2.5" fill="#8a877a"/>
</svg>
</body></html>
